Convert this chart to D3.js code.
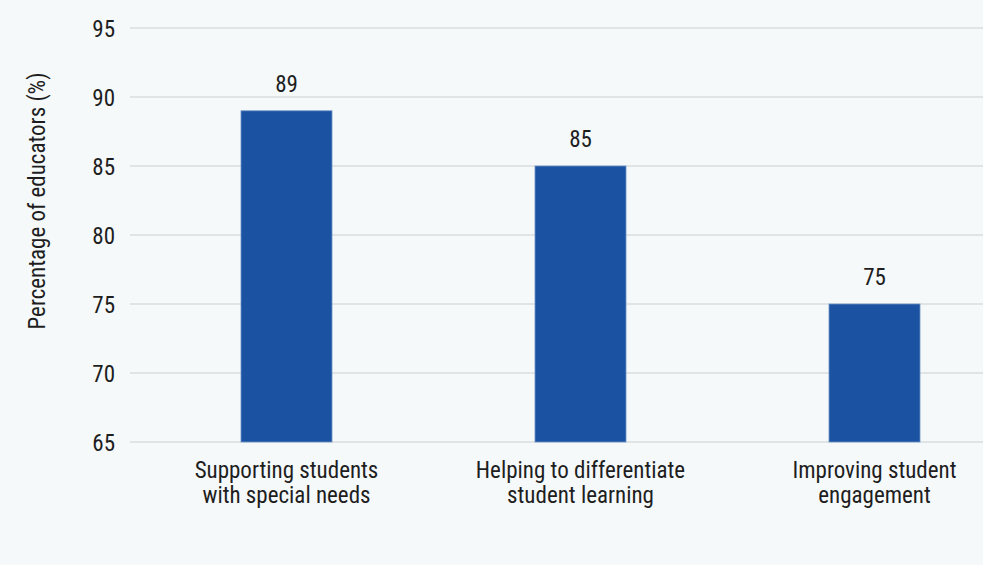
<!DOCTYPE html>
<html>
<head>
<meta charset="utf-8">
<script src="https://cdn.jsdelivr.net/npm/d3@7"></script>
<style>
  html, body { margin: 0; padding: 0; background: #f5f9fa; }
  svg { display: block; }
  text { font-family: "Roboto Condensed", "Roboto", sans-serif; font-stretch: condensed; fill: #1e1e1e; }
</style>
</head>
<body>
<svg id="chart" width="983" height="565"></svg>
<script>
// Share of educators citing each benefit
const categories = [
  ["Supporting students", "with special needs"],
  ["Helping to differentiate", "student learning"],
  ["Improving student", "engagement"]
];
const values = [89, 85, 75];
const yTicks = [65, 70, 75, 80, 85, 90, 95];
const yLabel = "Percentage of educators (%)";

const svg = d3.select("#chart");
const W = 983, H = 565;
svg.append("rect").attr("width", W).attr("height", H).attr("fill", "#f5f9fa");

const gridLeft = 130, gridRight = W;
const y = d3.scaleLinear().domain([65, 95]).range([442, 28]);
const x = d3.scaleBand().domain(d3.range(categories.length)).range([139.5, 1021.5]).paddingInner(0).paddingOuter(0);
const barW = 91;

// Horizontal gridlines
svg.append("g").selectAll("line").data(yTicks).join("line")
  .attr("x1", gridLeft).attr("x2", gridRight)
  .attr("y1", d => y(d)).attr("y2", d => y(d))
  .attr("stroke", "#d8dcdf").attr("stroke-width", 1.5);

// Y axis tick labels
const yAxis = d3.axisLeft(y).tickValues(yTicks).tickSize(0).tickPadding(0);
const gy = svg.append("g").attr("transform", "translate(115,0)").call(yAxis);
gy.select(".domain").remove();
gy.selectAll("text").attr("font-size", 23).style("font-family", null).attr("dy", "0.36em");

// Bars
svg.append("g").selectAll("rect").data(values).join("rect")
  .attr("x", (d, i) => x(i) + x.bandwidth() / 2 - barW / 2)
  .attr("width", barW)
  .attr("y", d => y(d))
  .attr("height", d => y(65) - y(d))
  .attr("fill", "#1c52a2")
  .attr("stroke", "#6f93c6").attr("stroke-width", 0.8);

// Value labels
svg.append("g").selectAll("text").data(values).join("text")
  .attr("x", (d, i) => x(i) + x.bandwidth() / 2)
  .attr("y", d => y(d) - 19)
  .attr("text-anchor", "middle")
  .attr("font-size", 23)
  .text(d => d);

// Category labels
const cat = svg.append("g").selectAll("text").data(categories).join("text")
  .attr("x", (d, i) => x(i) + x.bandwidth() / 2)
  .attr("y", 478)
  .attr("text-anchor", "middle")
  .attr("font-size", 23);
cat.selectAll("tspan").data(d => d).join("tspan")
  .attr("x", function() { return d3.select(this.parentNode).attr("x"); })
  .attr("dy", (d, i) => i === 0 ? 0 : 25)
  .text(d => d);

// Y axis title
svg.append("text")
  .attr("transform", "translate(45,201) rotate(-90)")
  .attr("text-anchor", "middle")
  .attr("font-size", 23)
  .text(yLabel);
</script>
</body>
</html>
